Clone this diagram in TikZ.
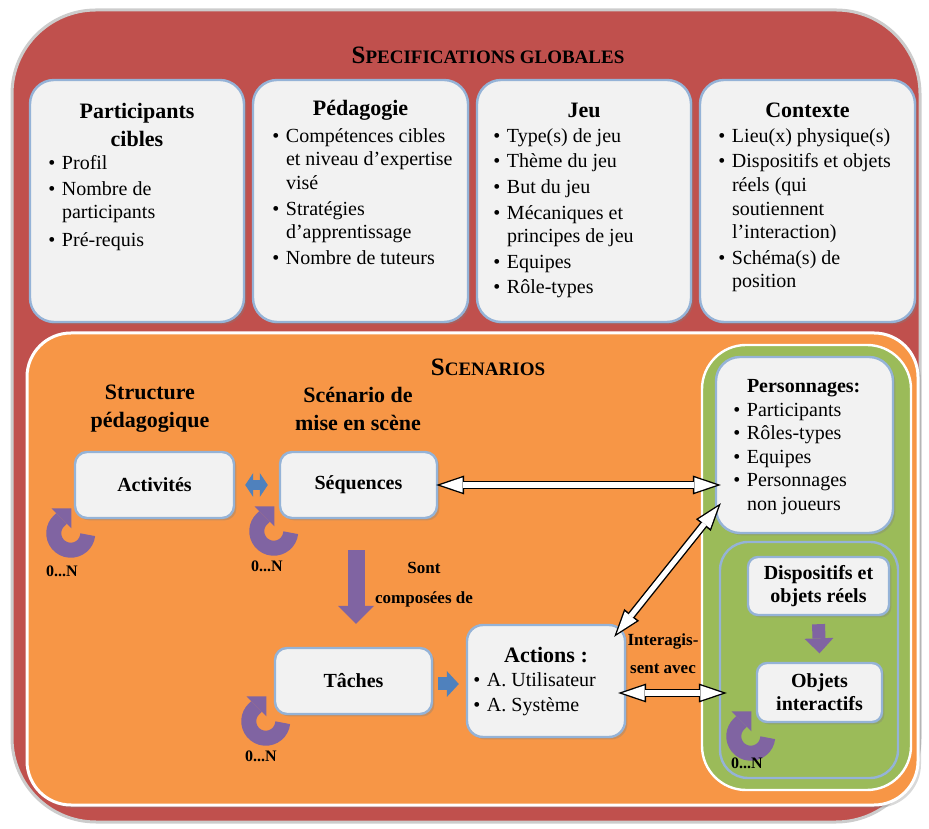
\documentclass[tikz,border=0pt]{standalone}
\usepackage{fontspec}
\setmainfont{Liberation Serif}
\usetikzlibrary{arrows.meta,shadows,positioning}

\definecolor{redbg}{HTML}{C0504D}
\definecolor{orangebg}{HTML}{F79646}
\definecolor{greenbg}{HTML}{9BBB59}
\definecolor{boxfill}{HTML}{F2F2F2}
\definecolor{boxline}{HTML}{95B3D7}
\definecolor{purplearr}{HTML}{8064A2}
\definecolor{bluearr}{HTML}{4F81BD}

\newcommand{\bu}{\makebox[6.8pt][l]{\textbullet}}
\newcommand{\nb}{\hspace*{6.8pt}}
\newcommand{\fakesc}[2]{{\fontsize{12.5}{14}\selectfont #1}{\fontsize{9.5}{14}\selectfont #2}}

\tikzset{
  frame/.style={inner sep=0pt},
  card/.style={draw=boxline, line width=1.2pt, fill=boxfill, rounded corners=12pt,
    inner sep=0pt, drop shadow={shadow xshift=1.2pt, shadow yshift=-1.2pt, opacity=0.35}},
  head/.style={font=\bfseries\fontsize{11}{14}\selectfont, align=center, inner sep=0pt},
  txt/.style={font=\fontsize{10}{11.8}\selectfont, align=left, inner sep=0pt, anchor=north west},
  lbl/.style={font=\bfseries\fontsize{8.5}{10.5}\selectfont, align=center, inner sep=0pt},
  hollow/.style={draw=black, line width=4pt,
    {Triangle[length=14pt,width=9.5pt,line width=0pt]}-{Triangle[length=14pt,width=9.5pt,line width=0pt]},
    postaction={draw=white, line width=2.6pt, shorten <=2.1pt, shorten >=2.1pt,
      {Triangle[length=11.1pt,width=7.5pt,line width=0pt]}-{Triangle[length=11.1pt,width=7.5pt,line width=0pt]}}},
  bluearrow/.style={draw=bluearr, line width=5pt},
  fatpurple/.style={draw=purplearr, line width=8.5pt, -{Triangle[length=9pt,width=18pt,line width=0pt]}},
  loopy/.style={draw=purplearr, line width=7.5pt, -{Triangle[length=7pt,width=14pt,line width=0pt]}}
}

\begin{document}
\begin{tikzpicture}[x=0.5pt,y=0.5pt]
  \useasboundingbox (0,0) rectangle (929,828);

  % Outer frame
  \node[frame, fill=redbg, draw=black!20, line width=1.5pt, rounded corners=42pt,
    minimum width=454pt, minimum height=406pt] (global) at (466,412) {};
  \node[font=\bfseries] (globtitle) at (488,773) {\fakesc{S}{PECIFICATIONS GLOBALES}};

  % Global specification cards
  \node[card, minimum width=107pt, minimum height=121pt] (cibles) at (137,627) {};
  \node[card, minimum width=107.5pt, minimum height=121pt] (peda) at (360.5,627) {};
  \node[card, minimum width=107pt, minimum height=121pt] (jeu) at (584,627) {};
  \node[card, minimum width=107.5pt, minimum height=121pt] (contexte) at (807.5,627) {};

  \node[head] (cibles-t) at (137,703) {Participants\\cibles};
  \node[head] (peda-t) at (360.5,718) {Pédagogie};
  \node[head] (jeu-t) at (584,718) {Jeu};
  \node[head] (contexte-t) at (807.5,718) {Contexte};

  \node[txt] (cibles-l) at (48,673) {\bu Profil\\[1pt] \bu Nombre de\\ \nb participants\\[2pt] \bu Pré-requis};
  \node[txt] (peda-l) at (272,700) {\bu Compétences cibles\\ \nb et niveau d’expertise\\ \nb visé\\[1pt]
    \bu Stratégies\\ \nb d’apprentissage\\[1pt] \bu Nombre de tuteurs};
  \node[txt] (jeu-l) at (493,700) {\bu Type(s) de jeu\\[1pt] \bu Thème du jeu\\[1pt] \bu But du jeu\\[1pt]
    \bu Mécaniques et\\ \nb principes de jeu\\[1pt] \bu Equipes\\[1pt] \bu Rôle-types};
  \node[txt] (contexte-l) at (718,700) {\bu Lieu(x) physique(s)\\[1pt] \bu Dispositifs et objets\\ \nb réels (qui\\
    \nb soutiennent\\ \nb l’interaction)\\[1pt] \bu Schéma(s) de\\ \nb position};

  % Scenarios frame
  \node[frame, fill=orangebg, draw=white, line width=1.5pt, rounded corners=22pt,
    minimum width=445.5pt, minimum height=236pt,
    drop shadow={shadow xshift=1.5pt, shadow yshift=-1.5pt, opacity=0.3}] (scen) at (472.5,259) {};
  \node[font=\bfseries] (scentitle) at (488,461) {\fakesc{S}{CENARIOS}};

  \node[head] (struct) at (150,419) {Structure\\pédagogique};
  \node[head] (miseen) at (358,419) {Scénario de\\mise en scène};

  \node[card, rounded corners=6pt, minimum width=79.5pt, minimum height=33pt,
    font=\bfseries\fontsize{10}{12}\selectfont] (act) at (154.5,343) {Activités};
  \node[card, rounded corners=6pt, minimum width=78.5pt, minimum height=33pt,
    font=\bfseries\fontsize{10}{12}\selectfont] (seq) at (358.5,343) {Séquences};
  \node[card, rounded corners=6pt, minimum width=78.5pt, minimum height=33pt,
    font=\bfseries\fontsize{10}{12}\selectfont] (tache) at (353.5,147) {Tâches};
  \node[card, rounded corners=8pt, minimum width=79pt, minimum height=56pt] (actions) at (546,147) {};
  \node[head] (actions-t) at (546,173) {Actions :};
  \node[txt] (actions-l) at (473,156) {\bu A. Utilisateur\\[1pt] \bu A. Système};

  % Characters and objects
  \node[frame, fill=greenbg, draw=white, line width=1.2pt, rounded corners=22pt,
    minimum width=104.5pt, minimum height=222.5pt] (zone) at (806.5,260.5) {};
  \node[card, rounded corners=12pt, minimum width=88.5pt, minimum height=88pt] (perso) at (804.5,383) {};
  \node[txt] (perso-l) at (733,449) {\nb\textbf{Personnages:}\\ \bu Participants\\ \bu Rôles-types\\
    \bu Equipes\\ \bu Personnages\\ \nb non joueurs};
  \node[frame, fill=greenbg, draw=boxline, line width=1.2pt, rounded corners=14pt,
    minimum width=89pt, minimum height=118pt] (materiel) at (809,168) {};
  \node[card, rounded corners=5pt, minimum width=70.5pt, minimum height=29pt, align=center,
    font=\bfseries\fontsize{10}{11.5}\selectfont] (disp) at (818.5,242) {Dispositifs et\\objets réels};
  \node[card, rounded corners=5pt, minimum width=62.5pt, minimum height=29.5pt, align=center,
    font=\bfseries\fontsize{10}{11.5}\selectfont] (objets) at (819.5,135.5) {Objets\\interactifs};

  % Links
  \draw[bluearrow, {Triangle[length=4pt,width=12pt,line width=0pt]}-{Triangle[length=4pt,width=12pt,line width=0pt]}]
    ([shift={(10,0)}]act.east) -- ([shift={(-11,0)}]seq.west);
  \draw[bluearrow, line width=6.5pt, -{Triangle[length=6pt,width=13pt,line width=0pt]}]
    ([shift={(5,-3)}]tache.east) -- ([shift={(-7,-3)}]actions.west);
  \draw[fatpurple] ([shift={(-2.5,-31)}]seq.south) -- ([shift={(2.5,23)}]tache.north);
  \draw[fatpurple, line width=6.5pt, -{Triangle[length=7.5pt,width=14.5pt,line width=0pt]}]
    ([shift={(0,-8)}]disp.south) -- ([shift={(0,8.5)}]objets.north);

  \draw[hollow] ([shift={(-2,0)}]seq.east) -- ([shift={(6,0)}]seq.east -| perso.west);
  \draw[hollow] ([shift={(-12,-13)}]actions.north east) -- ([shift={(6,31)}]perso.south west);
  \coordinate (ia) at ([shift={(-8,-12)}]actions.east);
  \draw[hollow] (ia) -- ([shift={(8,0)}]ia -| materiel.west);

  \node[lbl] (compo) at (424,243) {Sont\\[4.5pt]composées de};
  \node[lbl] (inter) at (663,174) {Interagis-\\[3.5pt]sent avec};

  % Repetition loops
  \foreach \b/\dx/\dy/\lx/\ly in {act/-3/-14/-9/-38, seq/-5/-12/-7/-35, tache/-8/-6/-5/-35, objets/-5/-13/-4/-27} {
    \coordinate (\b-c) at ([shift={(\dx,\dy)}]\b.south west);
    \draw[loopy] ([shift={(16.9,-1.5)}]\b-c) arc[start angle=-5, end angle=-225, radius=17] -- ++(45:18);
    \node[lbl, font=\bfseries\fontsize{8}{10}\selectfont] (\b-n) at ([shift={(\lx,\ly)}]\b-c) {0...N};
  }
\end{tikzpicture}
\end{document}
